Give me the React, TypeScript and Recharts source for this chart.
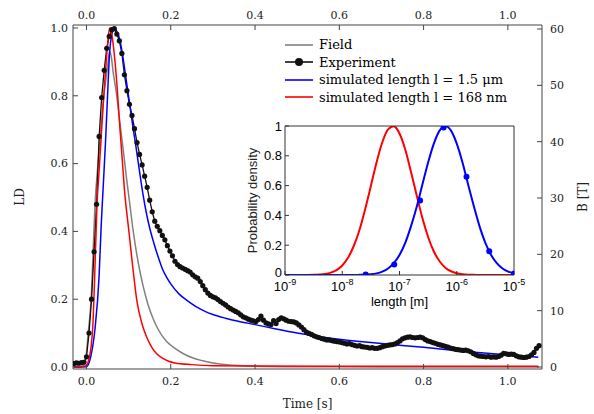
import React from 'react';
import { ComposedChart, Line, XAxis, YAxis, Legend, Label } from 'recharts';

// ---------- main plot: experiment (LD vs time) ----------
const expTime = [
  -0.030, -0.024, -0.018, -0.012, -0.006, 0.000, 0.006, 0.012, 0.018, 0.024,
  0.030, 0.036, 0.042, 0.048, 0.054, 0.060, 0.066, 0.072, 0.078, 0.084,
  0.090, 0.096, 0.102, 0.108, 0.114, 0.120, 0.126, 0.132, 0.138, 0.144,
  0.150, 0.156, 0.162, 0.168, 0.174, 0.180, 0.186, 0.192, 0.198, 0.204,
  0.210, 0.216, 0.222, 0.228, 0.234, 0.240, 0.246, 0.252, 0.258, 0.264,
  0.270, 0.276, 0.282, 0.288, 0.294, 0.300, 0.306, 0.312, 0.318, 0.324,
  0.330, 0.336, 0.342, 0.348, 0.354, 0.360, 0.366, 0.372, 0.378, 0.384,
  0.390, 0.396, 0.402, 0.408, 0.414, 0.420, 0.426, 0.432, 0.438, 0.444,
  0.450, 0.456, 0.462, 0.468, 0.474, 0.480, 0.486, 0.492, 0.498, 0.504,
  0.510, 0.516, 0.522, 0.528, 0.534, 0.540, 0.546, 0.552, 0.558, 0.564,
  0.570, 0.576, 0.582, 0.588, 0.594, 0.600, 0.606, 0.612, 0.618, 0.624,
  0.630, 0.636, 0.642, 0.648, 0.654, 0.660, 0.666, 0.672, 0.678, 0.684,
  0.690, 0.696, 0.702, 0.708, 0.714, 0.720, 0.726, 0.732, 0.738, 0.744,
  0.750, 0.756, 0.762, 0.768, 0.774, 0.780, 0.786, 0.792, 0.798, 0.804,
  0.810, 0.816, 0.822, 0.828, 0.834, 0.840, 0.846, 0.852, 0.858, 0.864,
  0.870, 0.876, 0.882, 0.888, 0.894, 0.900, 0.906, 0.912, 0.918, 0.924,
  0.930, 0.936, 0.942, 0.948, 0.954, 0.960, 0.966, 0.972, 0.978, 0.984,
  0.990, 0.996, 1.002, 1.008, 1.014, 1.020, 1.026, 1.032, 1.038, 1.044,
  1.050, 1.056, 1.062, 1.068, 1.074,
];
const expLD = [
  0.010, 0.012, 0.011, 0.013, 0.014, 0.030, 0.100, 0.200, 0.340, 0.480,
  0.680, 0.795, 0.875, 0.940, 0.975, 0.995, 0.998, 0.982, 0.962, 0.925,
  0.862, 0.815, 0.775, 0.742, 0.703, 0.662, 0.627, 0.596, 0.563, 0.530,
  0.492, 0.458, 0.430, 0.415, 0.402, 0.388, 0.375, 0.358, 0.342, 0.328,
  0.312, 0.302, 0.296, 0.292, 0.288, 0.284, 0.280, 0.272, 0.266, 0.262,
  0.252, 0.240, 0.228, 0.218, 0.211, 0.207, 0.204, 0.199, 0.193, 0.188,
  0.183, 0.177, 0.172, 0.168, 0.164, 0.160, 0.154, 0.148, 0.145, 0.141,
  0.138, 0.136, 0.134, 0.140, 0.150, 0.138, 0.130, 0.127, 0.125, 0.137,
  0.128, 0.140, 0.145, 0.142, 0.138, 0.135, 0.134, 0.133, 0.130, 0.124,
  0.118, 0.110, 0.103, 0.099, 0.096, 0.092, 0.089, 0.087, 0.084, 0.082,
  0.080, 0.080, 0.078, 0.076, 0.075, 0.074, 0.072, 0.070, 0.068, 0.069,
  0.066, 0.064, 0.062, 0.063, 0.060, 0.059, 0.058, 0.056, 0.057, 0.055,
  0.055, 0.057, 0.060, 0.062, 0.064, 0.065, 0.066, 0.068, 0.072, 0.077,
  0.083, 0.086, 0.088, 0.089, 0.087, 0.086, 0.087, 0.088, 0.086, 0.081,
  0.077, 0.075, 0.072, 0.070, 0.067, 0.065, 0.063, 0.061, 0.059, 0.056,
  0.054, 0.052, 0.051, 0.050, 0.049, 0.050, 0.048, 0.045, 0.040, 0.036,
  0.033, 0.032, 0.031, 0.030, 0.031, 0.029, 0.030, 0.029, 0.031, 0.035,
  0.040, 0.039, 0.037, 0.038, 0.037, 0.033, 0.030, 0.029, 0.028, 0.029,
  0.031, 0.036, 0.043, 0.055, 0.063,
];

// ---------- main plot: field (B [T] vs time) ----------
const fieldTime = [
  -0.030, -0.010, -0.004, 0.000, 0.004, 0.008, 0.011, 0.015, 0.020, 0.027,
  0.035, 0.041, 0.047, 0.051, 0.055, 0.059, 0.063, 0.071, 0.079, 0.087,
  0.095, 0.102, 0.110, 0.118, 0.126, 0.134, 0.146, 0.158, 0.170, 0.189,
  0.210, 0.229, 0.253, 0.276, 0.300, 0.333, 0.400, 0.500, 0.700, 1.074,
];
const fieldB = [
  0, 0.1, 0.6, 2.5, 6, 9, 12, 19, 28.5, 35.8,
  42.8, 48, 51.6, 54, 56, 55, 52.5, 48.6, 43.5, 38.7,
  33.5, 29.4, 24.6, 20.6, 17.3, 14.5, 11.1, 8.6, 6.7, 4.6,
  3.3, 2.4, 1.6, 1.1, 0.7, 0.4, 0.15, 0.06, 0.02, 0,
];

// ---------- main plot: simulated l = 1.5 um ----------
const blueTime = [
  -0.030, 0.000, 0.010, 0.020, 0.030, 0.035, 0.040, 0.045, 0.050, 0.055,
  0.060, 0.066, 0.072, 0.080, 0.087, 0.095, 0.102, 0.110, 0.118, 0.126,
  0.134, 0.142, 0.150, 0.160, 0.170, 0.180, 0.190, 0.200, 0.220, 0.240,
  0.260, 0.280, 0.300, 0.330, 0.360, 0.400, 0.450, 0.500, 0.550, 0.600,
  0.700, 0.800, 0.900, 1.000, 1.072,
];
const blueLD = [
  0, 0.001, 0.03, 0.11, 0.27, 0.42, 0.54, 0.66, 0.80, 0.93,
  0.98, 1.0, 0.99, 0.96, 0.91, 0.84, 0.78, 0.71, 0.645, 0.576,
  0.51, 0.455, 0.41, 0.365, 0.325, 0.29, 0.265, 0.245, 0.215, 0.195,
  0.178, 0.165, 0.155, 0.144, 0.135, 0.125, 0.112, 0.1, 0.09, 0.082,
  0.069, 0.058, 0.046, 0.036, 0.029,
];

// ---------- main plot: simulated l = 168 nm ----------
const redTime = [
  -0.030, 0.000, 0.005, 0.011, 0.015, 0.019, 0.025, 0.030, 0.035, 0.040,
  0.045, 0.050, 0.055, 0.060, 0.067, 0.073, 0.079, 0.085, 0.091, 0.097,
  0.102, 0.108, 0.114, 0.119, 0.126, 0.134, 0.143, 0.155, 0.166, 0.180,
  0.195, 0.210, 0.250, 0.300, 0.400, 0.600, 1.072,
];
const redLD = [
  0, 0.004, 0.02, 0.06, 0.12, 0.25, 0.48, 0.58, 0.68, 0.78,
  0.87, 0.95, 1.0, 0.98, 0.91, 0.82, 0.71, 0.61, 0.51, 0.44,
  0.385, 0.315, 0.25, 0.2, 0.155, 0.118, 0.088, 0.058, 0.04, 0.026,
  0.017, 0.012, 0.007, 0.004, 0.003, 0.002, 0.002,
];

const seriesNames = ['Field', 'Experiment', 'simulated length l = 1.5 μm', 'simulated length l = 168 nm'];
const timeTicks = [0, 0.2, 0.4, 0.6, 0.8, 1.0];
const ldTicks = [0, 0.2, 0.4, 0.6, 0.8, 1.0];
const bTicks = [0, 10, 20, 30, 40, 50, 60];

// ---------- inset: length distributions ----------
const lengthGrid = [
  1e-9, 1.26e-9, 1.58e-9, 2.0e-9, 2.51e-9, 3.16e-9, 3.98e-9, 5.01e-9, 6.31e-9, 7.94e-9,
  1e-8, 1.26e-8, 1.58e-8, 2.0e-8, 2.51e-8, 3.16e-8, 3.98e-8, 5.01e-8, 6.31e-8, 7.94e-8,
  1e-7, 1.26e-7, 1.58e-7, 2.0e-7, 2.51e-7, 3.16e-7, 3.98e-7, 5.01e-7, 6.31e-7, 7.94e-7,
  1e-6, 1.26e-6, 1.58e-6, 2.0e-6, 2.51e-6, 3.16e-6, 3.98e-6, 5.01e-6, 6.31e-6, 7.94e-6,
  1e-5,
];
const redDensity = [
  0, 0, 0, 0, 0, 0.001, 0.003, 0.007, 0.016, 0.033,
  0.064, 0.115, 0.193, 0.302, 0.441, 0.598, 0.757, 0.891, 0.977, 0.999,
  0.95, 0.842, 0.695, 0.534, 0.382, 0.255, 0.158, 0.092, 0.049, 0.025,
  0.012, 0.005, 0.002, 0.001, 0, 0, 0, 0, 0, 0,
  0,
];
const blueDensity = [
  0, 0, 0, 0, 0, 0, 0, 0, 0, 0,
  0, 0, 0, 0.001, 0.002, 0.005, 0.011, 0.023, 0.044, 0.080,
  0.135, 0.216, 0.325, 0.458, 0.607, 0.755, 0.882, 0.969, 1.0, 0.969,
  0.882, 0.755, 0.607, 0.458, 0.325, 0.216, 0.135, 0.080, 0.044, 0.023,
  0.011,
];
const blueMarkLength = [2.57e-8, 8.1e-8, 2.29e-7, 5.9e-7, 1.48e-6, 3.7e-6, 1e-5];
const blueMarkDensity = [0.003, 0.07, 0.5, 0.99, 0.66, 0.16, 0.01];
const decadeTicks = [1e-9, 1e-8, 1e-7, 1e-6, 1e-5];
const densityTicks = [0, 0.2, 0.4, 0.6, 0.8, 1];

// ---------- styling ----------
const SERIF = '"DejaVu Serif", serif';
const SANS = '"Liberation Sans", Arial, sans-serif';
const AXIS = '#444';
const BLUE = '#0000ff';
const RED = '#ff0000';
const GRAY = '#808080';
const BLACK = '#111111';

const pairs = (xs: number[], ys: number[], key: string) =>
  xs.map((x, i) => ({ [key]: x, v: ys[i] }));

const expData = pairs(expTime, expLD, 't');
const fieldData = pairs(fieldTime, fieldB, 't');
const blueData = pairs(blueTime, blueLD, 't');
const redData = pairs(redTime, redLD, 't');
const redDist = pairs(lengthGrid, redDensity, 'len');
const blueDist = pairs(lengthGrid, blueDensity, 'len');
const blueMarks = pairs(blueMarkLength, blueMarkDensity, 'len');

const serifTick = { fill: '#222', fontSize: 11, fontFamily: SERIF };

const LegendContent = (props: any) => {
  const payload = [...(props.payload || [])].sort(
    (a: any, b: any) => seriesNames.indexOf(a.value) - seriesNames.indexOf(b.value)
  );
  return (
    <div style={{ fontFamily: SERIF, fontSize: 13, color: '#000' }}>
      {payload.map((e: any, i: number) => (
        <div key={i} style={{ display: 'flex', alignItems: 'center', height: 17.5, whiteSpace: 'nowrap' }}>
          <svg width={28} height={12} style={{ display: 'block' }}>
            <line x1={0} x2={28} y1={6} y2={6} stroke={e.color} strokeWidth={1.6} />
            {e.type === 'circle' && <circle cx={14} cy={6} r={4} fill={BLACK} />}
          </svg>
          <span style={{ marginLeft: 6 }}>{e.value}</span>
        </div>
      ))}
    </div>
  );
};

const vLabel = (text: string, dx: number, font: string, size: number) => (p: any) => {
  const vb = p.viewBox || { x: 0, y: 0, width: 0, height: 0 };
  const cx = vb.x + dx;
  const cy = vb.y + vb.height / 2;
  return (
    <text x={cx} y={cy} textAnchor="middle" dominantBaseline="central" transform={`rotate(-90, ${cx}, ${cy})`}
      fontFamily={font} fontSize={size} fill="#222">
      {text}
    </text>
  );
};

const PowerTick = (props: any) => {
  const { x, y, payload } = props;
  const exp = Math.round(Math.log10(payload.value));
  return (
    <text x={x} y={y} textAnchor="middle" fontFamily={SANS} fontSize={13} fill="#000">
      <tspan dy="0.71em">10</tspan>
      <tspan dy={-6} fontSize={9}>{exp}</tspan>
    </text>
  );
};

const DensityTick = (props: any) => {
  const { x, y, payload } = props;
  return (
    <text x={x} y={y} dy={payload.value === 0 ? '0.15em' : '0.35em'} textAnchor="end" fontFamily={SANS}
      fontSize={13} fill="#000">
      {String(payload.value)}
    </text>
  );
};

export default function App() {
  return (
    <div style={{ position: 'absolute', left: 0, top: 0, width: 594, height: 414, background: '#fff' }}>
      <ComposedChart width={594} height={414} margin={{ top: 0, right: 0, bottom: 0, left: 0 }}>
        <XAxis xAxisId="bottom" dataKey="t" type="number" domain={[-0.032, 1.081]} allowDataOverflow
          ticks={timeTicks} interval={0} tickFormatter={(v: number) => v.toFixed(1)} height={45}
          tickSize={-5} tickMargin={13} stroke={AXIS} tick={serifTick}
          label={{ value: 'Time [s]', position: 'insideBottom', offset: 6, fill: '#222', fontFamily: SERIF, fontSize: 12 }} />
        <XAxis xAxisId="top" orientation="top" dataKey="t" type="number" domain={[-0.032, 1.081]} allowDataOverflow
          ticks={timeTicks} interval={0} tickFormatter={(v: number) => v.toFixed(1)} height={25}
          tickSize={-5} tickMargin={11} stroke={AXIS} tick={serifTick} />
        <YAxis yAxisId="ld" type="number" domain={[-0.0059, 1.0088]} allowDataOverflow ticks={ldTicks} interval={0}
          tickFormatter={(v: number) => v.toFixed(1)} width={73} tickSize={-5} tickMargin={10}
          stroke={AXIS} tick={serifTick}>
          <Label content={vLabel('LD', 20, SERIF, 12)} />
        </YAxis>
        <YAxis yAxisId="b" orientation="right" type="number" domain={[-0.355, 60.71]} allowDataOverflow ticks={bTicks}
          interval={0} width={52} tickSize={-5} tickMargin={13} stroke={AXIS} tick={{ ...serifTick, textAnchor: 'start' }}>
          <Label content={vLabel('B [T]', 41, SERIF, 12)} />
        </YAxis>
        <Legend layout="vertical" align="center" verticalAlign="middle" content={LegendContent}
          itemSorter={(item: any) => seriesNames.indexOf(item.value)}
          wrapperStyle={{ position: 'absolute', left: 285, top: 36, width: 260, height: 72 }} />
        <Line xAxisId="bottom" yAxisId="b" data={fieldData} dataKey="v" name={seriesNames[0]} type="monotone"
          stroke={GRAY} strokeWidth={1.5} dot={false} isAnimationActive={false} />
        <Line xAxisId="bottom" yAxisId="ld" data={expData} dataKey="v" name={seriesNames[1]} type="linear"
          legendType="circle" stroke={BLACK} strokeWidth={1.3}
          dot={{ r: 2.6, fill: BLACK, stroke: BLACK, strokeWidth: 0 }} isAnimationActive={false} />
        <Line xAxisId="bottom" yAxisId="ld" data={blueData} dataKey="v" name={seriesNames[2]}
          type="monotone" stroke={BLUE} strokeWidth={1.5} dot={false} isAnimationActive={false} />
        <Line xAxisId="bottom" yAxisId="ld" data={redData} dataKey="v" name={seriesNames[3]}
          type="monotone" stroke={RED} strokeWidth={1.5} dot={false} isAnimationActive={false} />
      </ComposedChart>

      <div style={{ position: 'absolute', left: 230, top: 110 }}>
        <ComposedChart width={300} height={200} margin={{ top: 0, right: 0, bottom: 0, left: 0 }}>
          <XAxis xAxisId="b" dataKey="len" type="number" scale="log" domain={[1e-9, 1e-5]} allowDataOverflow
            ticks={decadeTicks} interval={0} height={35} tickSize={-4} tickMargin={11} stroke="#333" tick={<PowerTick />}
            label={{ value: 'length [m]', position: 'insideBottom', offset: 4, fill: '#000', fontFamily: SANS, fontSize: 13 }} />
          <XAxis xAxisId="t" orientation="top" dataKey="len" type="number" scale="log" domain={[1e-9, 1e-5]}
            allowDataOverflow ticks={decadeTicks} interval={0} height={16} tickSize={-4} tick={false} stroke="#333" />
          <YAxis yAxisId="l" type="number" domain={[0, 1]} allowDataOverflow ticks={densityTicks} interval={0}
            width={55} tickSize={-4} tickMargin={7} stroke="#333" tick={<DensityTick />}>
            <Label content={vLabel('Probability density', 22, SANS, 13)} />
          </YAxis>
          <YAxis yAxisId="r" orientation="right" type="number" domain={[0, 1]} allowDataOverflow ticks={densityTicks}
            interval={0} width={16} tickSize={-4} tick={false} stroke="#333" />
          <Line xAxisId="b" yAxisId="l" data={redDist} dataKey="v" type="monotone" stroke={RED} strokeWidth={2}
            dot={false} isAnimationActive={false} />
          <Line xAxisId="b" yAxisId="l" data={blueDist} dataKey="v" type="monotone" stroke={BLUE} strokeWidth={2}
            dot={false} isAnimationActive={false} />
          <Line xAxisId="b" yAxisId="l" data={blueMarks} dataKey="v" type="linear" stroke="none"
            dot={{ r: 3, fill: BLUE, stroke: BLUE, strokeWidth: 0 }} isAnimationActive={false} />
        </ComposedChart>
      </div>
    </div>
  );
}
